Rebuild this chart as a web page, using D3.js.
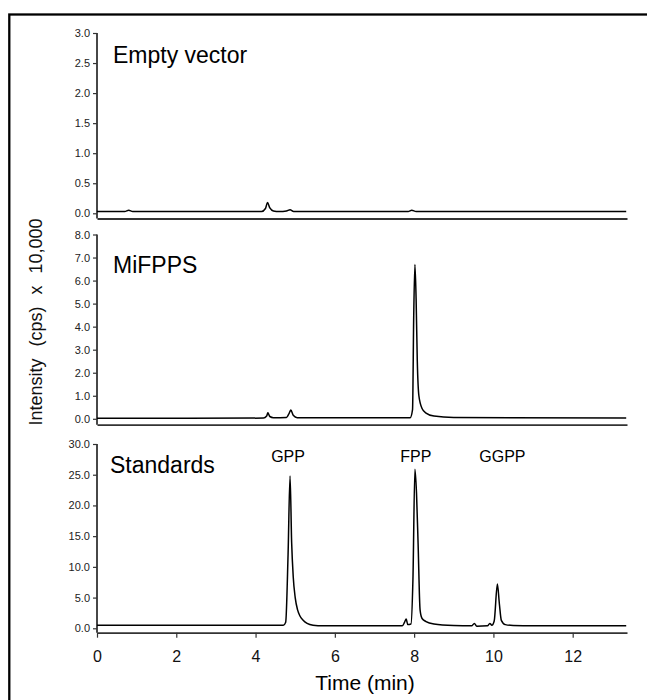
<!DOCTYPE html>
<html>
<head>
<meta charset="utf-8">
<script src="https://cdn.jsdelivr.net/npm/d3@7"></script>
<style>
  body { margin: 0; background: #fff; }
  svg { display: block; font-family: "Liberation Sans", Arial, sans-serif; }
</style>
</head>
<body>
<div id="chart"></div>
<script>
// Chromatograms: retention time (min) vs intensity (cps x 10,000)

// Empty vector
const emptyTime = [0, 0.7, 0.8, 0.9, 4.15, 4.25, 4.3, 4.36, 4.45, 4.6, 4.78, 4.87, 4.96, 7.85, 7.94, 8.05, 13.35];
const emptyInt  = [0.03, 0.03, 0.05, 0.03, 0.03, 0.08, 0.18, 0.09, 0.04, 0.03, 0.04, 0.06, 0.03, 0.03, 0.05, 0.03, 0.03];

// MiFPPS
const mifppsTime = [0, 4.2, 4.28, 4.31, 4.36, 4.45, 4.78, 4.85, 4.89, 4.95, 5.05, 7.9, 7.96, 7.99, 8.02, 8.05, 8.08, 8.12, 8.2, 8.3, 8.5, 9, 13.35];
const mifppsInt  = [0.02, 0.03, 0.12, 0.26, 0.1, 0.05, 0.06, 0.25, 0.38, 0.15, 0.05, 0.05, 0.4, 4.5, 6.7, 5.2, 2.5, 1.0, 0.45, 0.25, 0.12, 0.06, 0.03];

// Standards
const stdTime = [0, 4.7, 4.76, 4.82, 4.87, 4.91, 4.95, 5.0, 5.06, 5.12, 5.2, 5.3, 5.45, 5.7, 7.7, 7.76, 7.8, 7.84, 7.92, 7.97, 8.02, 8.06, 8.1, 8.15, 8.2, 8.3, 8.5, 9.0, 9.45, 9.52, 9.58, 9.85, 9.91, 9.96, 10.02, 10.1, 10.15, 10.2, 10.3, 10.5, 11, 13.35];
const stdInt  = [0.5, 0.5, 1.0, 12, 24.8, 14, 8.4, 5.0, 3.0, 2.0, 1.3, 0.8, 0.5, 0.4, 0.4, 1.0, 1.5, 0.6, 0.7, 8, 25.9, 22, 13.8, 3.0, 1.6, 1.1, 0.7, 0.45, 0.4, 0.8, 0.35, 0.4, 0.8, 0.5, 1.2, 7.2, 4.0, 1.3, 0.6, 0.45, 0.4, 0.4];

const peakNames = ["GPP", "FPP", "GGPP"];
const peakTimes = [4.87, 8.02, 10.1];

const panelNames = ["Empty vector", "MiFPPS", "Standards"];
const yMax = [3, 8, 30];
const yStep = [0.5, 1, 5];
const xTicks = [0, 2, 4, 6, 8, 10, 12];

const W = 647, H = 700;
const svg = d3.select("#chart").append("svg")
    .attr("width", W)
    .attr("height", H);

// outer frame
svg.append("rect")
    .attr("x", 9.3).attr("y", 14.5)
    .attr("width", 700).attr("height", 760)
    .attr("fill", "none")
    .attr("stroke", "#000")
    .attr("stroke-width", 2.3);

const x = d3.scaleLinear().domain([0, 13.37]).range([97, 627]);

// vertical placement of each panel: [top tick y, zero y, axis line y]
const panelY = [[33, 213.3, 218.5], [234.5, 418.8, 424.7], [444, 628.3, 632.7]];
const titleY = [63, 273, 473];

const series = [
    { t: emptyTime, v: emptyInt },
    { t: mifppsTime, v: mifppsInt },
    { t: stdTime, v: stdInt }
];

const axisColor = "#333";

series.forEach((s, i) => {
    const [yt, y0, ya] = panelY[i];
    const y = d3.scaleLinear().domain([0, yMax[i]]).range([y0, yt]);
    const g = svg.append("g");

    const ticks = d3.range(0, yMax[i] + yStep[i] / 2, yStep[i]);
    const yAxis = d3.axisLeft(y)
        .tickValues(ticks)
        .tickFormat(d3.format(".1f"))
        .tickSize(4)
        .tickPadding(3);
    const ay = g.append("g")
        .attr("transform", `translate(${x(0)},0)`)
        .call(yAxis);
    ay.select(".domain").remove();
    ay.selectAll(".tick line").attr("stroke", axisColor).attr("stroke-width", 1.2);
    ay.selectAll(".tick text")
        .attr("fill", "#222")
        .attr("font-size", 11)
        .attr("font-family", "Liberation Sans, Arial, sans-serif");

    // y axis line down to the panel's x axis line
    g.append("line")
        .attr("x1", x(0)).attr("x2", x(0))
        .attr("y1", yt).attr("y2", ya)
        .attr("stroke", axisColor).attr("stroke-width", 1.8);

    // x axis line
    const xAxis = d3.axisBottom(x)
        .tickValues(i === 2 ? xTicks : [])
        .tickSize(i === 2 ? 5 : 0)
        .tickSizeOuter(0)
        .tickPadding(13);
    const ax = g.append("g")
        .attr("transform", `translate(0,${ya})`)
        .call(xAxis);
    ax.select(".domain").attr("stroke", axisColor).attr("stroke-width", 1.8);
    ax.selectAll(".tick line").attr("stroke", axisColor).attr("stroke-width", 1.2);
    ax.selectAll(".tick text")
        .attr("fill", "#111")
        .attr("font-size", 16)
        .attr("font-family", "Liberation Sans, Arial, sans-serif");

    // trace
    const pts = s.t.map((t, k) => [t, s.v[k]]);
    g.append("path")
        .datum(pts)
        .attr("fill", "none")
        .attr("stroke", "#000")
        .attr("stroke-width", 1.5)
        .attr("stroke-linejoin", "round")
        .attr("d", d3.line()
            .x(d => x(d[0]))
            .y(d => y(d[1]))
            .curve(d3.curveMonotoneX));

    // panel title
    g.append("text")
        .attr("x", i === 2 ? 110 : 113)
        .attr("y", titleY[i])
        .attr("font-size", 23)
        .attr("fill", "#000")
        .text(panelNames[i]);
});

// peak labels on the standards panel
svg.selectAll(".peak")
    .data(peakNames)
    .join("text")
    .attr("class", "peak")
    .attr("x", (d, k) => x(peakTimes[k]) + [-2, 1, 5][k])
    .attr("y", 462)
    .attr("text-anchor", "middle")
    .attr("font-size", 16)
    .attr("fill", "#000")
    .text(d => d);

// axis titles
svg.append("text")
    .attr("x", 365).attr("y", 690)
    .attr("text-anchor", "middle")
    .attr("font-size", 21)
    .attr("fill", "#000")
    .text("Time (min)");

svg.append("text")
    .attr("transform", "translate(41.5,322) rotate(-90)")
    .attr("text-anchor", "middle")
    .attr("font-size", 18)
    .attr("fill", "#111")
    .style("word-spacing", "7px")
    .text("Intensity (cps) x 10,000");
</script>
</body>
</html>
